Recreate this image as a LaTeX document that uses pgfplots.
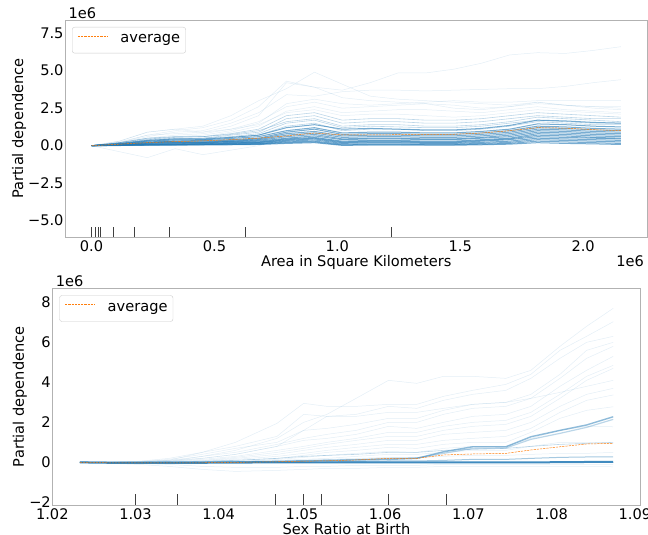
\documentclass[border=0pt]{standalone}
\usepackage{fontspec}
\setmainfont{DejaVu Sans}
\usepackage{pgfplots}
\usepackage{pgfplotstable}
\pgfplotsset{compat=1.18}

\definecolor{iceblue}{HTML}{1F77B4}
\definecolor{avgorange}{HTML}{FF7F0E}
\newcommand{\pdfont}{\fontsize{14.6bp}{17bp}\selectfont}

% ICE curves for Area (x and y in units of 1e6), one row per curve
\pgfplotstableread{
name c0 c1 c2 c3 c4 c5 c6 c7 c8 c9 c10 c11 c12 c13 c14 c15 c16 c17 c18 c19
x   0 0.113 0.227 0.340 0.453 0.567 0.680 0.793 0.907 1.020 1.134 1.247 1.360 1.474 1.587 1.701 1.814 1.927 2.041 2.154
l1  0 0.25 0.7 1.0 1.2 1.7 2.6 4.3 3.9 3.7 4.2 4.85 4.85 5.1 5.5 6.05 6.2 6.15 6.35 6.6
l2  0 0.3 0.9 1.1 1.3 2.0 3.0 3.8 4.9 4.1 3.3 3.1 3.0 2.9 2.8 2.7 2.9 2.7 2.6 2.5
l3  0 0.2 0.6 0.9 1.0 1.5 2.2 3.4 3.3 3.6 3.7 3.7 3.65 3.7 3.75 3.8 3.8 3.95 4.2 4.4
l4  0 0.2 0.7 0.8 0.9 1.3 2.0 4.2 3.9 3.2 3.0 2.9 2.8 2.5 2.4 2.6 2.9 2.7 2.5 2.4
l5  0 0.2 0.5 0.7 0.8 1.1 1.6 2.6 2.9 2.5 2.6 2.7 2.8 2.7 2.5 2.6 2.8 2.7 2.6 2.6
l6  0 0.15 0.4 0.6 0.6 0.9 1.3 2.3 2.6 2.2 2.3 2.4 2.4 2.3 2.2 2.4 2.6 2.4 2.3 2.2
l7  0 -0.4 -0.8 -0.2 -0.6 -0.3 0.0 0.5 0.6 0.2 0.3 0.3 0.2 0.2 0.2 0.3 0.5 0.4 0.3 0.3
l8  0 0.2 0.5 0.6 0.6 0.8 1.1 2.0 2.2 1.7 1.8 1.8 1.7 1.7 1.8 2.0 2.2 2.1 2.0 1.9
l9  0 0.15 0.4 0.5 0.5 0.7 0.9 1.8 2.0 1.5 1.6 1.6 1.5 1.5 1.6 1.8 2.0 1.9 1.8 1.8
l10 0 0.2 0.45 0.55 0.6 0.75 1.0 1.6 1.8 1.3 1.4 1.4 1.3 1.3 1.4 1.6 1.9 1.8 1.7 1.6
l11 0 0.1 0.35 0.45 0.5 0.6 0.8 1.5 1.7 1.2 1.3 1.25 1.2 1.2 1.3 1.5 1.7 1.6 1.5 1.5
l12 0 0.1 0.3 0.4 0.4 0.55 0.7 1.3 1.5 1.0 1.1 1.1 1.0 1.0 1.1 1.3 1.6 1.5 1.4 1.4
l13 0 0.3 0.9 1.1 0.9 1.1 1.4 2.2 2.4 2.0 2.1 2.1 2.0 1.9 2.0 2.2 2.4 2.3 2.2 2.1
l14 0 0.2 0.5 0.6 0.7 1.0 1.5 2.8 3.1 2.8 2.7 2.8 2.9 3.0 2.9 2.9 3.0 3.0 3.0 3.0
l15 0 0.15 0.35 0.45 0.45 0.55 0.7 1.2 1.4 1.1 1.15 1.1 1.05 1.05 1.15 1.35 1.7 1.65 1.55 1.5
l16 0 0.12 0.3 0.38 0.4 0.48 0.6 1.0 1.2 0.85 0.9 0.9 0.85 0.85 0.95 1.1 1.45 1.4 1.3 1.25
l17 0 0.1 0.25 0.3 0.35 0.4 0.5 0.9 1.1 0.75 0.8 0.8 0.75 0.75 0.85 1.0 1.3 1.25 1.15 1.1
l18 0 0.1 0.2 0.3 0.3 0.35 0.45 0.8 0.95 0.65 0.7 0.7 0.65 0.65 0.75 0.9 1.2 1.15 1.05 1.0
l19 0 0.08 0.2 0.25 0.25 0.3 0.4 0.7 0.85 0.55 0.6 0.6 0.55 0.55 0.65 0.8 1.1 1.05 0.95 0.9
l20 0 0.08 0.18 0.22 0.22 0.28 0.35 0.6 0.75 0.45 0.5 0.5 0.45 0.45 0.55 0.7 1.0 0.95 0.85 0.8
l21 0 0.06 0.15 0.2 0.2 0.25 0.3 0.5 0.65 0.4 0.45 0.45 0.4 0.4 0.5 0.6 0.9 0.85 0.75 0.7
l22 0 0.05 0.12 0.15 0.18 0.2 0.25 0.45 0.55 0.3 0.35 0.35 0.3 0.3 0.4 0.5 0.8 0.75 0.65 0.6
l23 0 0.05 0.1 0.12 0.15 0.18 0.22 0.4 0.5 0.25 0.3 0.3 0.25 0.25 0.35 0.45 0.7 0.65 0.55 0.5
l24 0 0.04 0.08 0.1 0.12 0.15 0.2 0.35 0.45 0.2 0.25 0.25 0.2 0.2 0.3 0.4 0.6 0.55 0.5 0.45
l25 0 0.03 0.06 0.08 0.1 0.12 0.15 0.3 0.38 0.15 0.2 0.2 0.15 0.15 0.22 0.3 0.5 0.45 0.4 0.35
l26 0 0.02 0.05 0.06 0.08 0.1 0.12 0.25 0.3 0.1 0.12 0.12 0.1 0.1 0.15 0.22 0.4 0.35 0.3 0.25
l27 0 0.02 0.04 0.05 0.06 0.08 0.1 0.2 0.25 0.05 0.08 0.08 0.06 0.06 0.1 0.15 0.3 0.25 0.2 0.15
l28 0 0.01 0.03 0.04 0.05 0.06 0.08 0.15 0.2 0.02 0.04 0.04 0.03 0.03 0.06 0.1 0.2 0.15 0.12 0.08
avg 0 0.1 0.2 0.27 0.32 0.4 0.5 0.65 0.84 0.72 0.72 0.73 0.74 0.76 0.84 1.0 1.2 1.17 1.07 1.0
}\arearows
\pgfplotstabletranspose[colnames from=name]{\areadata}{\arearows}

% ICE curves for Sex Ratio at Birth (y in units of 1e6)
\pgfplotstableread{
name c0 c1 c2 c3 c4 c5 c6 c7 c8 c9 c10 c11 c12 c13 c14 c15 c16 c17 c18
x   1.0233 1.0268 1.0303 1.0340 1.0380 1.0420 1.0470 1.0502 1.0530 1.0565 1.0604 1.0638 1.0670 1.0705 1.0745 1.0775 1.0810 1.0842 1.0874
b1  0 0 0 0.05 0.3 0.6 1.2 2.0 2.4 3.2 4.1 3.95 4.3 4.3 4.2 4.6 5.8 6.8 7.7
b2  0 0 0 0.1 0.5 1.0 1.95 2.95 2.8 2.8 2.9 2.9 3.3 3.6 3.9 4.4 5.6 6.3 7.03
b3  0 0 0.05 0.2 0.5 0.8 1.3 2.4 2.3 2.4 2.8 2.7 3.1 3.4 3.6 4.2 5.2 6.0 6.3
b4  0 0 0.02 0.15 0.4 0.7 1.0 1.6 1.7 1.9 2.2 2.2 2.6 2.9 3.0 3.4 4.4 5.6 6.0
b5  0 0 0.02 0.1 0.3 0.5 0.9 1.2 1.4 1.6 2.0 2.0 2.4 2.7 2.8 3.2 4.2 5.2 5.8
b6  0 0 0 0.05 0.2 0.4 0.8 1.1 1.2 1.4 1.8 1.7 2.0 2.3 2.4 2.8 3.8 4.6 5.3
b7  0 0 0 0.05 0.15 0.3 0.6 0.8 1.0 1.2 1.5 1.5 1.8 2.0 2.1 2.5 3.4 4.3 4.85
b8  0 0 0 0.03 0.1 0.25 0.5 0.7 0.9 1.1 1.3 1.3 1.6 1.8 1.9 2.3 3.2 4.1 4.7
b9  0 0 0 0.02 0.08 0.2 0.4 0.6 0.75 0.9 1.1 1.1 1.4 1.5 1.6 2.0 2.8 3.4 3.7
b10 0 0 0 0 0.05 0.15 0.3 0.45 0.6 0.75 0.9 0.9 1.1 1.2 1.3 1.7 2.5 3.1 3.37
b11 0 0 0 0 0.03 0.1 0.2 0.35 0.5 0.6 0.75 0.7 0.9 1.0 1.0 1.5 2.2 2.6 2.78
b12 0 0 0 0 0.02 0.05 0.15 0.25 0.35 0.45 0.55 0.5 0.7 0.8 0.8 1.2 1.6 1.8 1.78
b13 0 0 0 0 0.02 0.05 0.1 0.15 0.2 0.3 0.4 0.4 0.5 0.6 0.6 0.8 1.0 1.0 0.95
b14 0 0 0 0 0 0 0.05 0.1 0.15 0.2 0.25 0.25 0.3 0.35 0.35 0.4 0.45 0.45 0.5
b15 0 -0.05 -0.1 -0.2 -0.35 -0.45 -0.4 -0.35 -0.3 -0.3 -0.25 -0.25 -0.2 -0.2 -0.2 -0.2 -0.2 -0.2 -0.22
b16 0 -0.03 -0.05 -0.1 -0.2 -0.25 -0.25 -0.2 -0.2 -0.15 -0.15 -0.15 -0.1 -0.1 -0.1 -0.1 -0.1 -0.1 -0.1
b17 0 0.02 0.05 0.1 0.2 0.4 0.8 1.6 2.3 2.3 2.5 2.5 2.7 2.9 3.0 3.2 3.5 3.8 4.1
b18 0 0 0 0 0 0.02 0.05 0.08 0.1 0.12 0.15 0.2 0.53 0.78 0.78 1.28 1.6 1.87 2.28
b19 0 -0.02 -0.03 -0.03 -0.02 -0.01 0 0 0 0 0 0 0 0 0 0 0.01 0.02 0.03
b20 0 0 0 0 0 0 0 0 0.02 0.05 0.07 0.07 0.1 0.15 0.15 0.2 0.25 0.27 0.28
b21 0 0 0 0 0 0.02 0.04 0.06 0.1 0.14 0.2 0.22 0.45 0.7 0.72 1.15 1.45 1.75 2.15
b22 0 0 0 0.02 0.05 0.1 0.2 0.3 0.35 0.4 0.5 0.5 0.6 0.65 0.7 0.8 0.9 0.95 1.0
avg 0 -0.02 -0.03 -0.03 -0.02 0.0 0.03 0.06 0.08 0.12 0.2 0.2 0.37 0.42 0.45 0.62 0.78 0.92 0.95
}\sexrows
\pgfplotstabletranspose[colnames from=name]{\sexdata}{\sexrows}

\pgfplotsset{
  pdp/.style={
    scale only axis, anchor=south west, clip mode=individual,
    axis line style={black!30, line width=0.8bp},
    major tick length=0pt,
    tick label style={font=\pdfont, text=black},
    yticklabel style={xshift=2bp},
    label style={font=\pdfont},
    ylabel={Partial dependence},
    legend style={at={(0,1)}, anchor=north west, xshift=7bp, yshift=-7bp,
      draw=black!20, rounded corners=2.5bp, fill=white, font=\pdfont,
      inner xsep=5.5bp, inner ysep=7.5bp, column sep=0bp,
      nodes={inner sep=0bp, text height=8bp, text depth=3bp}},
    legend image code/.code={%
      \draw[##1] (0bp,4bp) -- (30bp,4bp);
      \path[draw=none, fill=none] (0bp,4bp) (42.5bp,4bp);},
  },
  ice/.style={color=iceblue, line width=0.5bp, opacity=0.12, forget plot},
  icemid/.style={color=iceblue, line width=0.6bp, opacity=0.3, forget plot},
  icecore/.style={color=iceblue, line width=1bp, opacity=0.6, forget plot},
  avgline/.style={color=avgorange, line width=0.5bp, dash pattern=on 2.2bp off 1bp},
  rug/.style={black!75, line width=0.8bp, unbounded coords=jump, forget plot},
}

\begin{document}
\begin{tikzpicture}
\path[use as bounding box] (0,0) rectangle (648bp,535bp);

\begin{axis}[pdp,
  at={(65bp,298bp)}, width=582.5bp, height=217bp,
  xmin=-0.108, xmax=2.262, ymin=-6.09, ymax=8.38,
  xtick={0,0.5,1,1.5,2}, xticklabels={0.0,0.5,1.0,1.5,2.0},
  ytick={-5,-2.5,0,2.5,5,7.5}, yticklabels={−5.0,−2.5,0.0,2.5,5.0,7.5},
  xlabel={Area in Square Kilometers},
  xlabel style={at={(axis description cs:0.5,-0.136)}, anchor=base},
  ylabel style={at={(axis description cs:-0.0717,0.5)}, anchor=base},
]
\pgfplotsinvokeforeach{1,...,7,13,14}{\addplot[ice] table[x=x, y=l#1] {\areadata};}
\pgfplotsinvokeforeach{8,...,12}{\addplot[icemid] table[x=x, y=l#1] {\areadata};}
\pgfplotsinvokeforeach{15,...,28}{\addplot[icecore] table[x=x, y=l#1] {\areadata};}
\addplot[avgline] table[x=x, y=avg] {\areadata};
\addlegendentry{average}
\addplot[rug] coordinates {
  (0,-6.09) (0,-5.40) (0,nan)
  (0.015,-6.09) (0.015,-5.40) (0.015,nan)
  (0.027,-6.09) (0.027,-5.40) (0.027,nan)
  (0.037,-6.09) (0.037,-5.40) (0.037,nan)
  (0.089,-6.09) (0.089,-5.40) (0.089,nan)
  (0.176,-6.09) (0.176,-5.40) (0.176,nan)
  (0.318,-6.09) (0.318,-5.40) (0.318,nan)
  (0.627,-6.09) (0.627,-5.40) (0.627,nan)
  (1.220,-6.09) (1.220,-5.40)
};
\node[anchor=base west, font=\pdfont, yshift=1bp] at (rel axis cs:0,1) {1e6};
\node[anchor=base east, font=\pdfont, yshift=-29.5bp] at (rel axis cs:1,0) {1e6};
\end{axis}

\begin{axis}[pdp,
  at={(52.3bp,30bp)}, width=588.4bp, height=216.7bp,
  xmin=1.0200, xmax=1.0907, ymin=-2.13, ymax=8.70,
  xtick={1.02,1.03,1.04,1.05,1.06,1.07,1.08,1.09},
  xticklabels={1.02,1.03,1.04,1.05,1.06,1.07,1.08,1.09},
  ytick={-2,0,2,4,6,8}, yticklabels={−2,0,2,4,6,8},
  xlabel={Sex Ratio at Birth},
  xlabel style={at={(axis description cs:0.5,-0.134)}, anchor=base},
  ylabel style={at={(axis description cs:-0.0481,0.5)}, anchor=base},
]
\pgfplotsinvokeforeach{1,...,17}{\addplot[ice] table[x=x, y=b#1] {\sexdata};}
\addplot[icemid] table[x=x, y=b22] {\sexdata};
\addplot[color=iceblue, line width=1bp, opacity=0.4, forget plot] table[x=x, y=b20] {\sexdata};
\addplot[color=iceblue, line width=1.2bp, opacity=0.3, forget plot] table[x=x, y=b21] {\sexdata};
\addplot[color=iceblue, line width=1.4bp, opacity=0.5, forget plot] table[x=x, y=b18] {\sexdata};
\addplot[color=iceblue, line width=2bp, opacity=0.85, forget plot] table[x=x, y=b19] {\sexdata};
\addplot[avgline] table[x=x, y=avg] {\sexdata};
\addlegendentry{average}
\addplot[rug] coordinates {
  (1.0300,-2.13) (1.0300,-1.59) (1.0300,nan)
  (1.0350,-2.13) (1.0350,-1.59) (1.0350,nan)
  (1.0468,-2.13) (1.0468,-1.59) (1.0468,nan)
  (1.0502,-2.13) (1.0502,-1.59) (1.0502,nan)
  (1.0523,-2.13) (1.0523,-1.59) (1.0523,nan)
  (1.0604,-2.13) (1.0604,-1.59) (1.0604,nan)
  (1.0674,-2.13) (1.0674,-1.59)
};
\node[anchor=base west, font=\pdfont, yshift=1.6bp] at (rel axis cs:0,1) {1e6};
\end{axis}
\end{tikzpicture}
\end{document}
